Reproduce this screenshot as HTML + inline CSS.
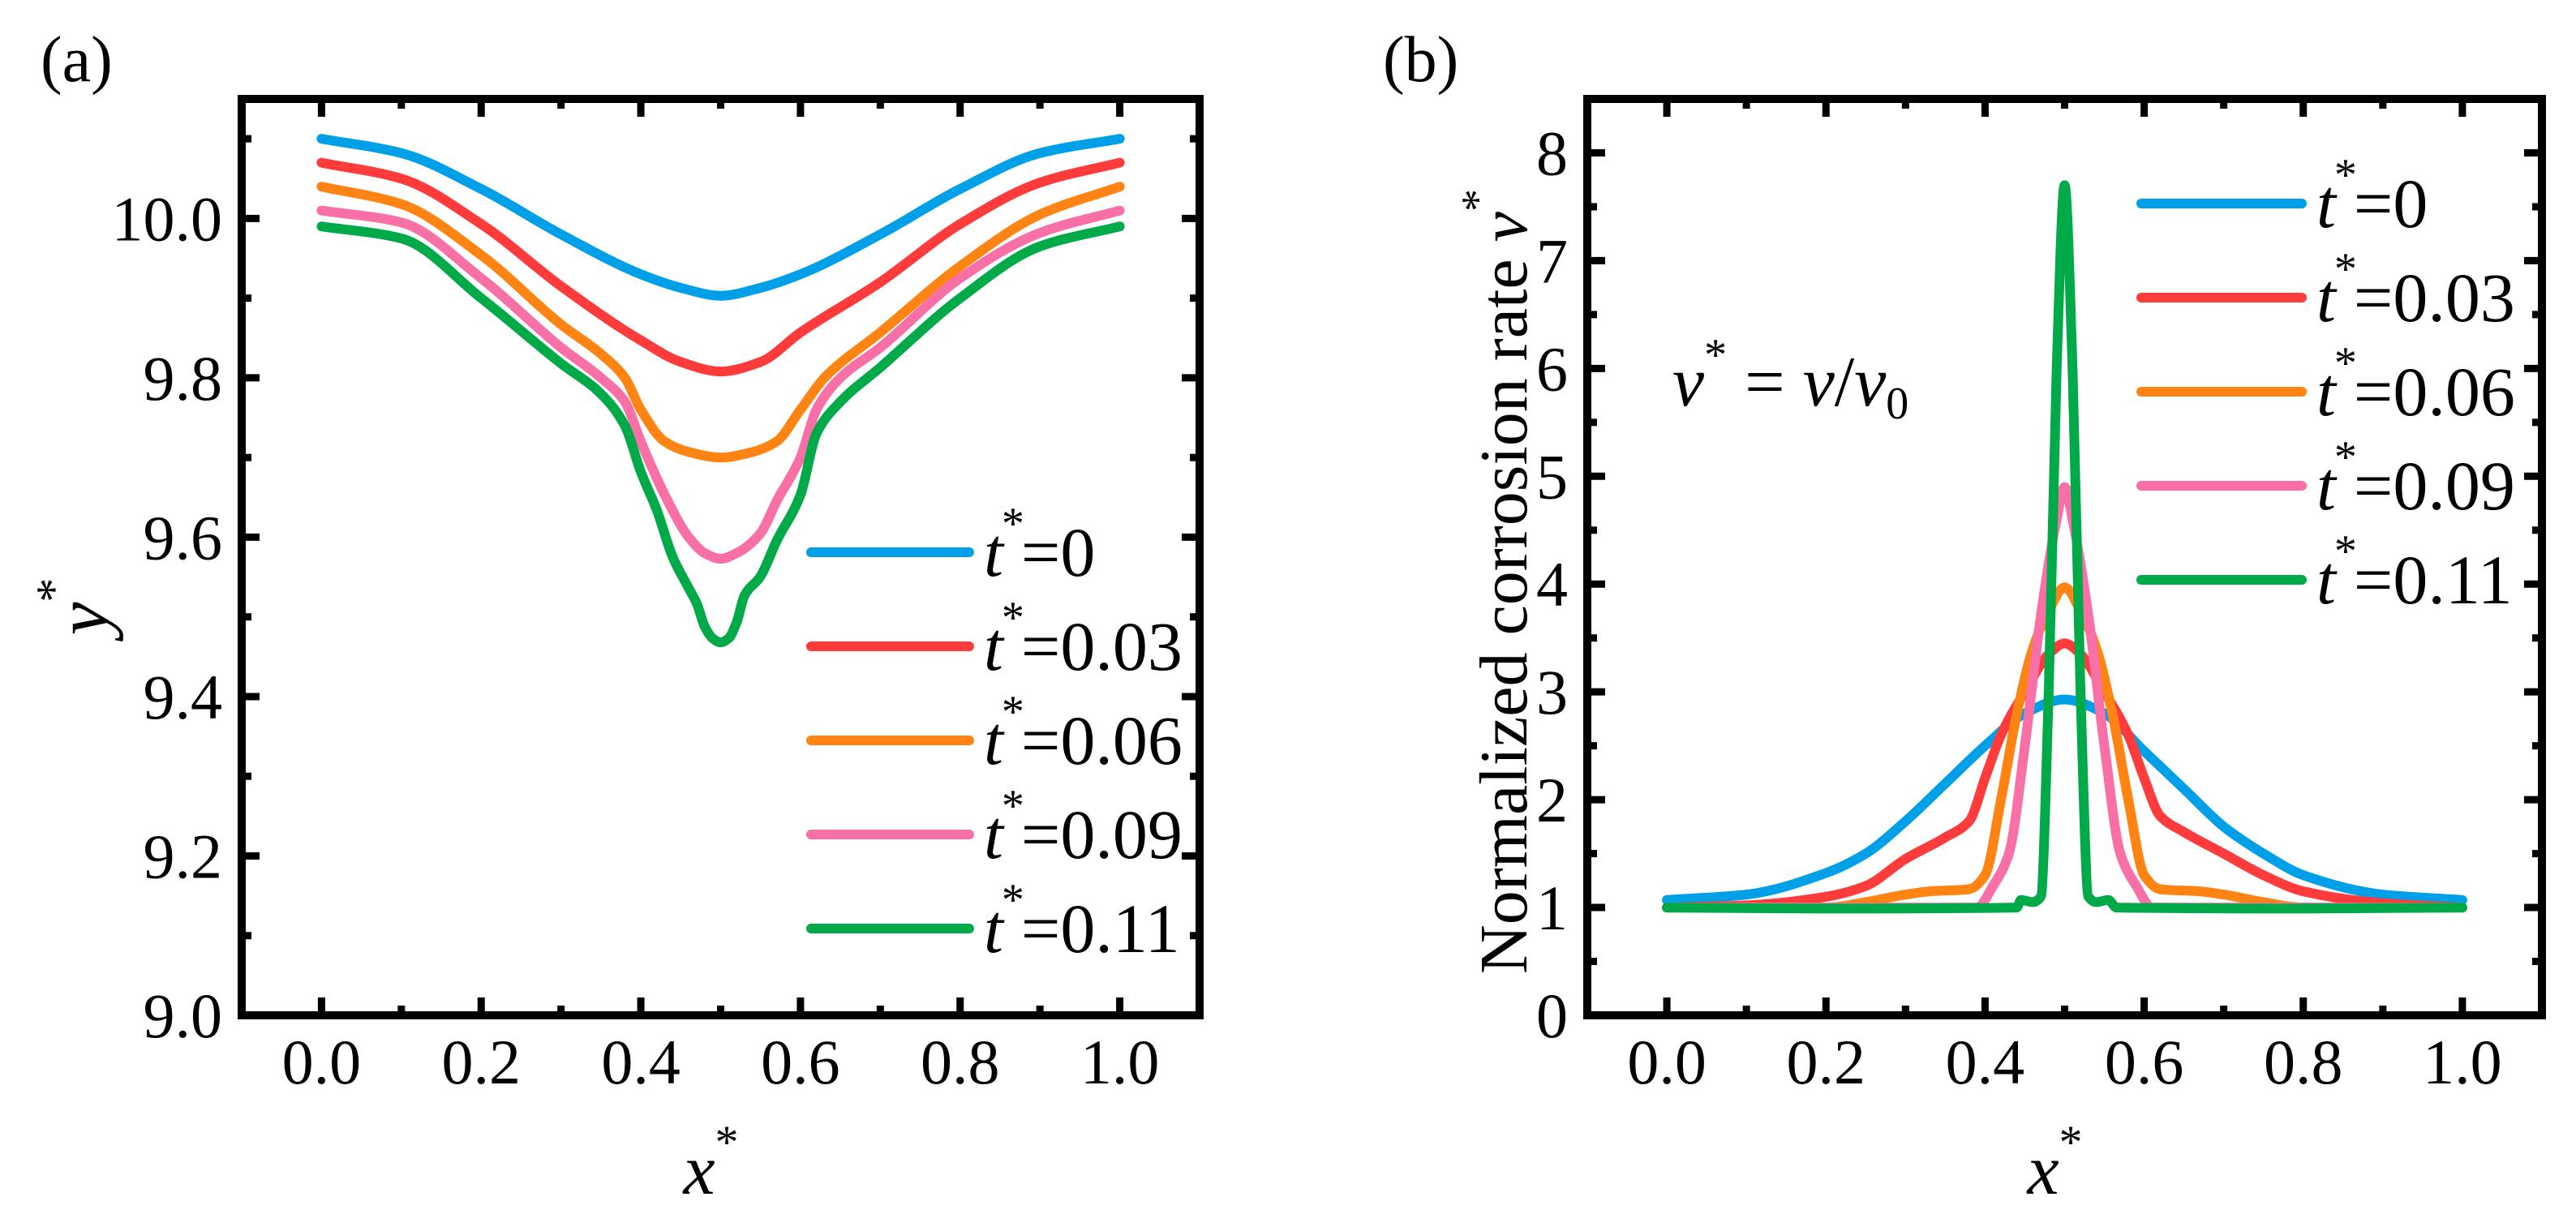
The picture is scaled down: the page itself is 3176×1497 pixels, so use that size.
<!DOCTYPE html>
<html><head><meta charset="utf-8"><style>
html,body{margin:0;padding:0;background:#fff;}
svg{display:block;font-family:"Liberation Serif",serif;}
svg text{font-family:"Liberation Serif",serif;}
</style></head><body>
<svg id="fig" width="3176" height="1497" viewBox="0 0 3176 1497" xmlns="http://www.w3.org/2000/svg">
<g id="pa"></g>
<g id="pb"></g>
</svg>
<script>
// ---------- data ----------
const seriesLabels = ["0","0.03","0.06","0.09","0.11"];
const seriesColors = ["#00a0e9","#ff3b3b","#ff8413","#f870a5","#00aa48"];

// panel (a) profiles y* vs x*
const aBlueX = [0,0.1,0.2,0.3,0.4,0.45,0.5,0.55,0.6,0.7,0.8,0.9,1.0];
const aBlueY = [10.1,10.082,10.037,9.98,9.93,9.913,9.903,9.913,9.93,9.98,10.037,10.082,10.1];
const aRedX = [0,0.1,0.2,0.3,0.4,0.45,0.5,0.55,0.6,0.7,0.8,0.9,1.0];
const aRedY = [10.07,10.05,9.993,9.915,9.847,9.82,9.808,9.82,9.857,9.92,9.993,10.045,10.07];
const aOrangeX = [0,0.1,0.2,0.3,0.35,0.38,0.4,0.43,0.46,0.5,0.54,0.57,0.6,0.63,0.7,0.8,0.9,1.0];
const aOrangeY = [10.04,10.018,9.954,9.867,9.83,9.8,9.76,9.72,9.707,9.7,9.707,9.72,9.76,9.8,9.857,9.94,10.005,10.04];
const aPinkX = [0,0.1,0.2,0.3,0.35,0.38,0.4,0.43,0.46,0.48,0.5,0.52,0.55,0.57,0.6,0.62,0.65,0.7,0.8,0.9,1.0];
const aPinkY = [10.01,9.995,9.925,9.838,9.8,9.77,9.72,9.653,9.6,9.58,9.573,9.58,9.605,9.645,9.7,9.76,9.8,9.838,9.925,9.982,10.01];
const aGreenX = [0,0.1,0.2,0.3,0.35,0.38,0.4,0.42,0.44,0.46,0.47,0.48,0.49,0.5,0.51,0.52,0.53,0.55,0.57,0.6,0.62,0.65,0.7,0.8,0.9,1.0];
const aGreenY = [9.99,9.975,9.9,9.818,9.78,9.74,9.682,9.634,9.575,9.536,9.517,9.488,9.473,9.468,9.473,9.493,9.527,9.551,9.595,9.653,9.73,9.77,9.813,9.9,9.965,9.99];

// panel (b) normalized corrosion rate v* vs x*
const bBlueX = [0,0.1,0.2,0.25,0.3,0.35,0.4,0.45,0.5,0.55,0.6,0.65,0.7,0.75,0.8,0.9,1.0];
const bBlueY = [1.07,1.12,1.32,1.5,1.8,2.15,2.5,2.8,2.93,2.8,2.45,2.1,1.75,1.5,1.3,1.12,1.07];
const bRedX = [0,0.1,0.2,0.25,0.3,0.35,0.38,0.4,0.42,0.45,0.48,0.5,0.52,0.55,0.58,0.6,0.62,0.65,0.7,0.75,0.8,0.9,1.0];
const bRedY = [1.0,1.02,1.1,1.2,1.45,1.65,1.8,2.2,2.6,3.0,3.35,3.45,3.35,3.0,2.6,2.2,1.85,1.7,1.5,1.3,1.15,1.04,1.0];
const bOrangeX = [0,0.2,0.25,0.3,0.33,0.38,0.4,0.42,0.44,0.46,0.48,0.5,0.52,0.54,0.56,0.58,0.6,0.62,0.67,0.7,0.75,0.8,1.0];
const bOrangeY = [1.0,1.0,1.05,1.12,1.15,1.17,1.3,2.0,2.8,3.4,3.75,3.97,3.75,3.4,2.8,2.0,1.3,1.17,1.15,1.12,1.05,1.0,1.0];
const bPinkX = [0,0.39,0.41,0.43,0.45,0.47,0.49,0.5,0.51,0.53,0.55,0.57,0.59,0.61,1.0];
const bPinkY = [1.0,1.0,1.2,1.5,2.5,3.7,4.6,4.9,4.6,3.7,2.5,1.5,1.2,1.0,1.0];
const bGreenX = [0,0.2,0.44,0.445,0.46,0.47,0.48,0.49,0.5,0.51,0.52,0.53,0.54,0.555,0.565,0.8,1.0];
const bGreenY = [1.0,0.99,1.0,1.07,1.05,1.1,3.0,6.0,7.7,6.0,3.0,1.1,1.05,1.07,1.0,0.99,1.0];

const aXTicks = ["0.0","0.2","0.4","0.6","0.8","1.0"];
const aYTicks = ["9.0","9.2","9.4","9.6","9.8","10.0"];
const bXTicks = ["0.0","0.2","0.4","0.6","0.8","1.0"];
const bYTicks = ["0","1","2","3","4","5","6","7","8"];

// ---------- drawing ----------
const NS = "http://www.w3.org/2000/svg";
function mk(tag, attrs, parent){
  const e = document.createElementNS(NS, tag);
  for (const k in attrs) e.setAttribute(k, attrs[k]);
  parent.appendChild(e);
  return e;
}
// monotone cubic (Fritsch–Carlson) path: no overshoot
function monoPath(P){
  const n = P.length;
  const dx = [], m = [], t = new Array(n);
  for (let i = 0; i < n - 1; i++) { dx[i] = P[i+1][0] - P[i][0]; m[i] = (P[i+1][1] - P[i][1]) / dx[i]; }
  t[0] = m[0]; t[n-1] = m[n-2];
  for (let i = 1; i < n - 1; i++) {
    if (m[i-1] * m[i] <= 0) t[i] = 0;
    else { const w1 = 2*dx[i] + dx[i-1], w2 = dx[i] + 2*dx[i-1]; t[i] = (w1 + w2) / (w1 / m[i-1] + w2 / m[i]); }
  }
  let d = "M" + P[0][0].toFixed(1) + "," + P[0][1].toFixed(1);
  for (let i = 0; i < n - 1; i++) {
    const h = dx[i] / 3;
    d += " C" + (P[i][0] + h).toFixed(1) + "," + (P[i][1] + t[i]*h).toFixed(1) + " " +
         (P[i+1][0] - h).toFixed(1) + "," + (P[i+1][1] - t[i+1]*h).toFixed(1) + " " +
         P[i+1][0].toFixed(1) + "," + P[i+1][1].toFixed(1);
  }
  return d;
}

function drawPanel(g, cfg){
  const L=cfg.L, R=cfg.R, T=cfg.T, B=cfg.B;
  const sx = v => L + (v - cfg.xmin) / (cfg.xmax - cfg.xmin) * (R - L);
  const sy = v => B - (v - cfg.ymin) / (cfg.ymax - cfg.ymin) * (B - T);
  cfg.series.forEach((s, i) => {
    const P = s.x.map((xv, j) => [sx(xv), sy(s.y[j])]);
    const pl = mk("path", {d: monoPath(P), fill: "none", stroke: seriesColors[i], "stroke-width": 12, "stroke-linejoin": "round", "stroke-linecap": "round"}, g);
    
    
  });
  const fr = mk("rect", {x: L, y: T, width: R - L, height: B - T, fill: "none", stroke: "#000", "stroke-width": 10}, g);
  
  
  for (let k = 0; k <= 10; k++) {
    const v = k / 10, X = sx(v), len = (k % 2 === 0) ? 22 : 12;
    mk("line", {x1: X, y1: B, x2: X, y2: B - len, stroke: "#000", "stroke-width": 9}, g);
    mk("line", {x1: X, y1: T, x2: X, y2: T + len, stroke: "#000", "stroke-width": 9}, g);
  }
  cfg.xTicks.forEach(lab => {
    const t = mk("text", {x: sx(parseFloat(lab)), y: B + 84, "font-size": 78, "text-anchor": "middle"}, g);
    t.textContent = lab;
    
    
  });
  for (let v = cfg.ymin; v <= cfg.ymax + 1e-9; v += cfg.yMinorStep) {
    const idx = Math.round((v - cfg.ymin) / cfg.yMinorStep);
    const Y = sy(v), len = (idx % 2 === 0) ? 22 : 12;
    mk("line", {x1: L, y1: Y, x2: L + len, y2: Y, stroke: "#000", "stroke-width": 9}, g);
    mk("line", {x1: R, y1: Y, x2: R - len, y2: Y, stroke: "#000", "stroke-width": 9}, g);
  }
  cfg.yTicks.forEach(lab => {
    const t = mk("text", {x: L - 24, y: sy(parseFloat(lab)) + 27, "font-size": 78, "text-anchor": "end"}, g);
    t.textContent = lab;
    
    
  });
  cfg.legendRows.forEach((rowY, i) => {
    const lg = mk("g", {}, g);
    
    
    mk("line", {x1: cfg.legendX1, y1: rowY, x2: cfg.legendX2, y2: rowY, stroke: seriesColors[i], "stroke-width": 12, "stroke-linecap": "round"}, lg);
    const t = mk("text", {x: cfg.legendX2 + 18, y: rowY + 29, "font-size": 86}, lg);
    t.innerHTML = '<tspan font-style="italic">t</tspan><tspan font-size="56" dy="-46" dx="-2">*</tspan><tspan dy="46" dx="-4">=' + seriesLabels[i] + '</tspan>';
  });
  const xt = mk("text", {x: (L + R) / 2 - 12, y: 1472, "font-size": 88, "text-anchor": "middle"}, g);
  xt.innerHTML = '<tspan font-style="italic">x</tspan><tspan font-size="58" dy="-44">*</tspan>';
  
  
}

drawPanel(document.getElementById("pa"), {
  prefix: "a", L: 298, R: 1479, T: 122, B: 1252,
  xmin: -0.1, xmax: 1.1, ymin: 9.0, ymax: 10.15, yMinorStep: 0.1,
  xTicks: aXTicks, yTicks: aYTicks,
  series: [{x:aBlueX,y:aBlueY},{x:aRedX,y:aRedY},{x:aOrangeX,y:aOrangeY},{x:aPinkX,y:aPinkY},{x:aGreenX,y:aGreenY}],
  legendRows: [681,797,913,1029,1145], legendX1: 1000, legendX2: 1195
});
drawPanel(document.getElementById("pb"), {
  prefix: "b", L: 1957, R: 3134, T: 122, B: 1252,
  xmin: -0.1, xmax: 1.1, ymin: 0, ymax: 8.5, yMinorStep: 0.5,
  xTicks: bXTicks, yTicks: bYTicks,
  series: [{x:bBlueX,y:bBlueY},{x:bRedX,y:bRedY},{x:bOrangeX,y:bOrangeY},{x:bPinkX,y:bPinkY},{x:bGreenX,y:bGreenY}],
  legendRows: [251,367,483,599,715], legendX1: 2640, legendX2: 2838
});

const svg = document.getElementById("fig");
const la = mk("text", {x: 50, y: 100, "font-size": 80}, svg); la.textContent = "(a)";


const lb = mk("text", {x: 1705, y: 100, "font-size": 80}, svg); lb.textContent = "(b)";



const ya = mk("text", {x: 0, y: 0, "font-size": 92, "text-anchor": "middle", transform: "translate(132,748) rotate(-90)"}, svg);
ya.innerHTML = '<tspan font-style="italic">y</tspan><tspan font-size="60" dy="-46">*</tspan>';



const yb = mk("text", {x: 0, y: 0, "font-size": 84, "text-anchor": "middle", transform: "translate(1882,717) rotate(-90)"}, svg);
yb.innerHTML = 'Normalized corrosion rate <tspan font-style="italic">v</tspan><tspan font-size="56" dy="-42">*</tspan>';



const eq = mk("text", {x: 2062, y: 500, "font-size": 88}, svg);
eq.innerHTML = '<tspan font-style="italic">v</tspan><tspan font-size="56" dy="-44">*</tspan><tspan dy="44"> = </tspan><tspan font-style="italic">v</tspan>/<tspan font-style="italic">v</tspan><tspan font-size="56" dy="16">0</tspan>';


</script>
</body></html>
